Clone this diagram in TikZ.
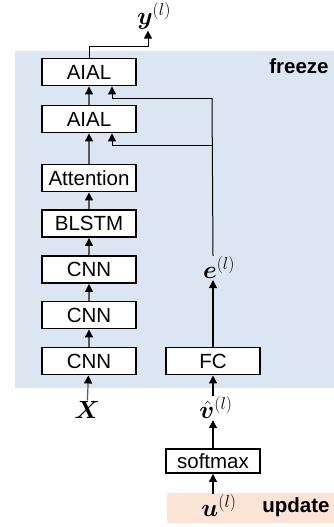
\documentclass[tikz,border=0pt]{standalone}
\usepackage{fontspec}
\usepackage{amsmath,bm}
\setmainfont{Liberation Sans}
\usetikzlibrary{arrows.meta}
\definecolor{freezebg}{HTML}{DCE6F2}
\definecolor{updatebg}{HTML}{FBE3D6}
\definecolor{chaingray}{HTML}{595959}
\tikzset{
  layerbox/.style={draw=black, line width=1.9pt, fill=white, minimum width=94pt, minimum height=27pt, inner sep=0pt, font=\fontsize{20.5}{24}\selectfont},
  mathlbl/.style={inner sep=1pt, font=\fontsize{24.5}{28}\selectfont},
  taglbl/.style={font=\fontsize{20.5}{24}\selectfont\bfseries},
  feed/.style={line width=1.2pt, -{Triangle[width=8pt,length=8pt,black]}},
}
\begin{document}
\begin{tikzpicture}[x=1pt, y=-1pt]
    \useasboundingbox (0,0) rectangle (334,527);
    % Shaded regions
    \fill[freezebg] (15,51) rectangle (334,388);
    \fill[updatebg] (167,493) rectangle (334,523);
    % Encoder stack
    \node[layerbox] (aialb) at (89,72) {AIAL};
    \node[layerbox] (aiala) at (89,119) {AIAL};
    \node[layerbox] (att) at (89,178) {Attention};
    \node[layerbox] (blstm) at (89,223.5) {BLSTM};
    \node[layerbox] (cnnc) at (89,269.5) {CNN};
    \node[layerbox] (cnnb) at (89,315) {CNN};
    \node[layerbox] (cnna) at (89,361) {CNN};
    % Side branch
    \node[layerbox] (fc) at (213,361) {FC};
    \node[layerbox, minimum height=24pt] (soft) at (213,461) {softmax};
    % Labels
    \node[mathlbl] (x) at (87,410) {$\bm{X}$};
    \node[mathlbl] (v) at (216,408) {$\hat{\bm{v}}^{(l)}$};
    \node[mathlbl] (e) at (219,268) {$\bm{e}^{(l)}$};
    \node[mathlbl] (y) at (154,16) {$\bm{y}^{(l)}$};
    \node[mathlbl] (u) at (219,506) {$\bm{u}^{(l)}$};
    \node[taglbl] (frz) at (299,66) {freeze};
    \node[taglbl] (upd) at (296,507) {update};
    % Helper points
    \coordinate (ytop) at (89,47); \coordinate (yturn) at (148,47);
    \coordinate (ebend) at (212,98); \coordinate (eknee) at (212,145);
    % Main chain
    \draw[feed, chaingray] (x) -- (cnna);
    \draw[feed, chaingray] (cnna) -- (cnnb);
    \draw[feed, chaingray] (cnnb) -- (cnnc);
    \draw[feed, chaingray] (cnnc) -- (blstm);
    \draw[feed, chaingray] (blstm) -- (att);
    \draw[feed, chaingray] (att) -- (aiala);
    \draw[feed, chaingray] (aiala) -- (aialb);
    \draw[feed, line width=1pt] (aialb.north) -- (ytop) -- (yturn) -- (yturn |- y.south);
    % Embedding path
    \draw[feed] (u.north -| 213,0) -- (soft);
    \draw[feed] (soft) -- (soft.north |- v.south);
    \draw[feed] (soft.north |- v.north) -- (fc);
    \draw[feed] (fc) -- (fc.north |- e.south);
    \draw[line width=1pt] (fc.north |- e.north) -- (ebend);
    \draw[feed, line width=1pt] (ebend) -- (112,98) -- (aialb.south -| 112,0);
    \draw[feed, line width=1pt] (eknee) -- (112,145) -- (aiala.south -| 112,0);
\end{tikzpicture}
\end{document}
